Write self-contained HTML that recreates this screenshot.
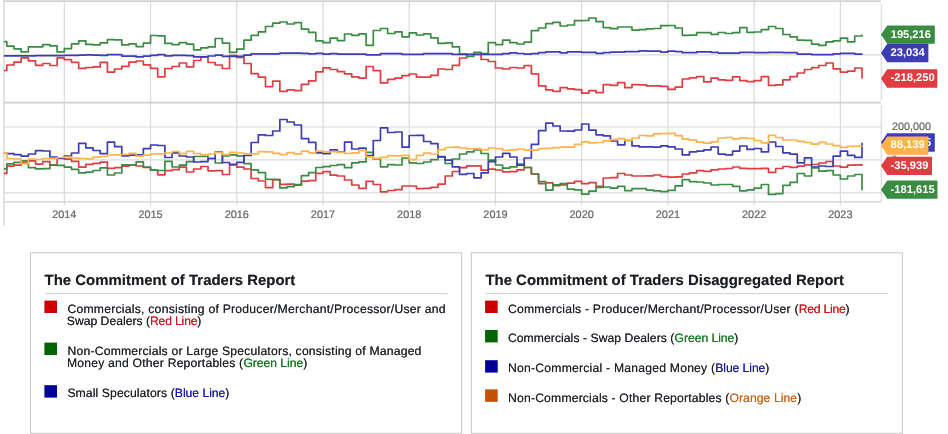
<!DOCTYPE html><html><head><meta charset="utf-8"><title>Commitment of Traders</title><style>
html,body{margin:0;padding:0;background:#fff;}
body{text-rendering:geometricPrecision;width:948px;height:434px;overflow:hidden;position:relative;font-family:"Liberation Sans",Arial,sans-serif;color:#1d2126;}
.hd,.tx{margin:0;padding:0}
.hd{text-shadow:0 0 0.4px rgba(26,29,33,.6);position:absolute;font-weight:700;font-size:14.9px;line-height:16px;white-space:nowrap;color:#1a1d21;}
.tx{text-shadow:0 0 0.45px rgba(29,33,38,.85);position:absolute;font-size:12.2px;line-height:16px;white-space:nowrap;}
.r{color:#d0101a;text-shadow:0 0 .45px rgba(208,16,26,.8)}.g{color:#0f7418;text-shadow:0 0 .45px rgba(15,116,24,.8)}.b{color:#1414a8;text-shadow:0 0 .45px rgba(20,20,168,.8)}.o{color:#cc5f12;text-shadow:0 0 .45px rgba(204,95,18,.8)}
</style></head><body>
<svg width="948" height="434" viewBox="0 0 948 434" style="position:absolute;left:0;top:0" font-family="'Liberation Sans', Arial, sans-serif" text-rendering="geometricPrecision">
<line x1="64.30" y1="1.5" x2="64.30" y2="205.6" stroke="#d9d9d9" stroke-width="1.2"/>
<line x1="150.53" y1="1.5" x2="150.53" y2="205.6" stroke="#d9d9d9" stroke-width="1.2"/>
<line x1="236.76" y1="1.5" x2="236.76" y2="205.6" stroke="#d9d9d9" stroke-width="1.2"/>
<line x1="322.99" y1="1.5" x2="322.99" y2="205.6" stroke="#d9d9d9" stroke-width="1.2"/>
<line x1="409.22" y1="1.5" x2="409.22" y2="205.6" stroke="#d9d9d9" stroke-width="1.2"/>
<line x1="495.45" y1="1.5" x2="495.45" y2="205.6" stroke="#d9d9d9" stroke-width="1.2"/>
<line x1="581.68" y1="1.5" x2="581.68" y2="205.6" stroke="#d9d9d9" stroke-width="1.2"/>
<line x1="667.91" y1="1.5" x2="667.91" y2="205.6" stroke="#d9d9d9" stroke-width="1.2"/>
<line x1="754.14" y1="1.5" x2="754.14" y2="205.6" stroke="#d9d9d9" stroke-width="1.2"/>
<line x1="840.37" y1="1.5" x2="840.37" y2="205.6" stroke="#d9d9d9" stroke-width="1.2"/>
<line x1="4" y1="54.8" x2="881" y2="54.8" stroke="#dadada" stroke-width="1.2"/>
<line x1="4" y1="127.0" x2="881" y2="127.0" stroke="#dadada" stroke-width="1.2"/>
<line x1="4" y1="159.8" x2="881" y2="159.8" stroke="#dadada" stroke-width="1.2"/>
<line x1="4" y1="192.9" x2="881" y2="192.9" stroke="#dadada" stroke-width="1.2"/>
<line x1="4.0" y1="0" x2="4.0" y2="225.5" stroke="#dadada" stroke-width="1.5"/>
<line x1="3.4" y1="0.5" x2="880.8" y2="0.5" stroke="#e2e2e2" stroke-width="1"/>
<line x1="3.4" y1="1.45" x2="880.8" y2="1.45" stroke="#cccccc" stroke-width="1"/>
<line x1="881.3" y1="3.7" x2="881.3" y2="100.2" stroke="#dadada" stroke-width="1.2"/>
<line x1="881.3" y1="105.2" x2="881.3" y2="201.5" stroke="#dadada" stroke-width="1.2"/>
<line x1="4" y1="102.7" x2="881" y2="102.7" stroke="#d0d0d0" stroke-width="1.8"/>
<line x1="4" y1="201.9" x2="881.5" y2="201.9" stroke="#d2d2d2" stroke-width="1.3"/>
<path d="M4.60,70.50H6.81V65.00H14.00V62.20H21.19V57.80H28.37V60.80H35.56V65.30H42.74V63.50H49.93V65.50H57.11V57.80H64.30V59.70H71.49V62.30H78.67V68.30H85.86V67.50H93.04V66.80H100.23V62.30H107.41V72.20H114.60V69.00H121.79V66.30H128.97V62.20H136.16V61.00H143.34V64.80H150.53V68.30H157.72V76.80H164.90V68.50H172.09V66.50H179.27V63.00H186.46V66.80H193.64V60.50H200.83V56.80H208.02V62.50H215.20V65.00H222.39V68.50H229.57V55.50H236.76V57.50H243.94V63.50H251.13V73.70H258.32V77.20H265.50V86.60H272.69V81.10H279.87V91.40H287.06V89.80H294.25V90.60H301.43V84.30H308.62V80.80H315.80V71.80H322.99V67.80H330.17V69.50H337.36V71.60H344.55V73.80H351.73V76.90H358.92V78.10H366.10V66.50H373.29V70.70H380.48V82.90H387.66V79.40H394.85V78.10H402.03V75.60H409.22V74.00H416.40V77.10H423.59H430.78V75.40H437.96V69.00H445.15V69.50H452.33V65.30H459.52V58.00H466.70V54.50H473.89H481.08V59.50H488.26V61.50H495.45V68.00H502.63V69.00H509.82V67.50H517.01V68.00H524.19V65.70H531.38V73.80H538.56V85.80H545.75V89.80H552.93V91.30H560.12V87.60H567.31V88.80H574.49V89.60H581.68V93.10H588.86V90.70H596.05V92.60H603.24V84.60H610.42V85.30H617.61V82.60H624.79V87.60H631.98V84.60H639.16V84.80H646.35V85.80H653.54V85.90H660.72V86.30H667.91V89.40H675.09V87.10H682.28V79.00H689.46V77.80H696.65V76.60H703.84V81.90H711.02V78.10H718.21V79.80H725.39V80.40H732.58V76.90H739.77V80.60H746.95V81.60H754.14V80.60H761.32V76.60H768.51V85.40H775.69V84.80H782.88V79.80H790.07V76.60H797.25V73.00H804.44V69.50H811.62V67.70H818.81V65.50H825.99V63.00H833.18V68.80H840.37V72.20H847.55V71.20H854.74V68.00H862.00V78.00" fill="none" stroke="#df3d42" stroke-width="1.7" stroke-linejoin="round" stroke-linecap="round"/>
<path d="M4.60,41.60H6.81V46.10H14.00V48.90H21.19V51.90H28.37V46.90H35.56H42.74V44.60H49.93V45.90H57.11V51.90H64.30V48.60H71.49V43.90H78.67V40.90H85.86V44.40H93.04V44.90H100.23V42.90H107.41V39.60H114.60V39.90H121.79V44.90H128.97V43.90H136.16V46.60H143.34V43.10H150.53V35.50H157.72V35.80H164.90V43.30H172.09V44.60H179.27V42.60H186.46V44.10H193.64V49.80H200.83V47.80H208.02V46.90H215.20V38.50H222.39V43.10H229.57V52.30H236.76V49.10H243.94V40.10H251.13V35.40H258.32V31.90H265.50V26.50H272.69V23.20H279.87V22.00H287.06V24.00H294.25V22.70H301.43V29.10H308.62V32.40H315.80V40.90H322.99V42.60H330.17V38.10H337.36V40.60H344.55V34.00H351.73V35.30H358.92V33.80H366.10V45.30H373.29V30.50H380.48V28.50H387.66V33.50H394.85V31.80H402.03V36.80H409.22V32.80H416.40V35.00H423.59V33.80H430.78V37.80H437.96V43.30H445.15V42.80H452.33V46.80H459.52V54.10H466.70V56.30H473.89V52.30H481.08V53.60H488.26V42.60H495.45V44.60H502.63V40.10H509.82V42.70H517.01V44.00H524.19V42.10H531.38V30.60H538.56V28.00H545.75V23.70H552.93V22.30H560.12V26.00H567.31V25.00H574.49V20.70H581.68V20.50H588.86V18.00H596.05V21.70H603.24V27.60H610.42V28.70H617.61V27.00H624.79H631.98V30.10H639.16V29.60H646.35V28.80H653.54V28.50H660.72V25.70H667.91V25.50H675.09V28.00H682.28V35.30H689.46V35.20H696.65V32.70H703.84H711.02V34.30H718.21V32.50H725.39V33.50H732.58V32.70H739.77V27.70H746.95V32.30H754.14V32.00H761.32V29.70H768.51V26.50H775.69V28.50H782.88V34.50H790.07V36.80H797.25V40.10H804.44V40.40H811.62V44.10H818.81V45.40H825.99V41.90H833.18V40.80H840.37V38.20H847.55V41.80H854.74V36.00H862.00V35.20" fill="none" stroke="#3a8c42" stroke-width="1.7" stroke-linejoin="round" stroke-linecap="round"/>
<path d="M4.60,55.80H6.81H14.00H21.19H28.37H35.56V55.60H42.74H49.93H57.11H64.30V55.40H71.49H78.67V55.10H85.86V54.90H93.04V55.10H100.23V55.40H107.41V54.60H114.60H121.79V56.10H128.97H136.16V56.90H143.34V56.10H150.53V55.40H157.72V54.60H164.90V55.90H172.09V55.40H179.27H186.46V55.60H193.64V56.90H200.83H208.02V56.00H215.20V55.10H222.39V56.40H229.57H236.76H243.94V55.10H251.13V53.80H258.32H265.50H272.69H279.87V53.10H287.06H294.25H301.43V53.30H308.62V53.80H315.80V53.30H322.99V54.10H330.17V53.60H337.36V54.10H344.55H351.73H358.92H366.10V54.80H373.29H380.48V53.60H387.66H394.85H402.03V54.30H409.22H416.40H423.59V53.60H430.78H437.96H445.15H452.33V54.30H459.52H466.70H473.89H481.08H488.26H495.45H502.63V53.60H509.82V52.80H517.01V53.50H524.19V54.10H531.38V53.60H538.56V52.60H545.75V51.80H552.93H560.12V52.80H567.31V51.80H574.49H581.68V52.30H588.86H596.05V53.30H603.24V52.60H610.42V52.10H617.61H624.79V51.60H631.98H639.16V50.80H646.35V51.10H653.54H660.72V52.10H667.91V51.10H675.09V51.60H682.28V52.70H689.46H696.65V51.80H703.84H711.02V52.30H718.21V53.10H725.39H732.58H739.77V52.30H746.95H754.14V52.60H761.32H768.51V52.30H775.69H782.88V52.60H790.07H797.25V54.10H804.44H811.62V54.60H818.81H825.99H833.18V53.80H840.37V53.30H847.55H854.74V54.10H862.00V54.00" fill="none" stroke="#3c3cb4" stroke-width="1.7" stroke-linejoin="round" stroke-linecap="round"/>
<path d="M4.60,173.40H6.81V166.10H14.00V165.10H21.19V162.60H28.37V160.90H35.56V164.10H42.74V161.60H49.93V164.80H57.11V158.50H64.30V159.20H71.49V161.30H78.67V167.10H85.86V164.30H93.04V163.30H100.23V162.20H107.41V168.30H114.60V167.70H121.79V166.20H128.97V165.00H136.16V166.00H143.34V167.50H150.53V170.00H157.72V174.80H164.90V170.60H172.09V169.70H179.27V167.20H186.46V172.00H193.64V169.00H200.83V166.50H208.02V170.80H215.20V170.70H222.39V174.50H229.57V165.00H236.76V167.20H243.94V169.00H251.13V178.50H258.32V181.00H265.50V187.60H272.69V179.60H279.87V184.40H287.06V184.10H294.25V185.10H301.43V181.10H308.62V180.60H315.80V173.30H322.99V171.70H330.17V175.20H337.36V176.00H344.55V180.00H351.73V185.00H358.92V188.40H366.10V181.30H373.29V184.50H380.48V191.80H387.66V190.50H394.85V189.70H402.03V186.00H409.22H416.40V188.70H423.59V188.30H430.78V187.30H437.96V184.20H445.15V176.00H452.33V171.50H459.52V167.70H466.70V165.80H473.89H481.08V170.20H488.26V169.20H495.45V170.00H502.63V171.80H509.82V171.60H517.01V169.80H524.19V167.50H531.38V174.00H538.56V183.60H545.75V182.80H552.93V185.60H560.12V184.80H567.31V183.10H574.49V181.30H581.68V183.60H588.86V182.60H596.05V186.30H603.24V178.00H610.42V177.70H617.61V173.50H624.79V175.00H631.98V176.00H639.16H646.35V175.80H653.54V175.00H660.72V176.50H667.91V177.20H675.09V176.80H682.28V174.00H689.46V172.80H696.65V170.70H703.84V171.30H711.02V169.80H718.21V169.00H725.39V168.50H732.58V167.00H739.77V168.30H746.95V168.70H754.14H761.32V168.30H768.51V172.40H775.69V168.50H782.88V166.50H790.07V167.30H797.25V166.20H804.44V164.80H811.62V164.50H818.81V163.00H825.99V161.50H833.18V166.00H840.37V167.20H847.55V165.20H854.74V164.80H862.00V165.20" fill="none" stroke="#df3d42" stroke-width="1.7" stroke-linejoin="round" stroke-linecap="round"/>
<path d="M4.60,168.90H6.81V163.90H14.00V162.30H21.19V160.80H28.37V167.60H35.56V168.90H42.74V168.60H49.93V165.10H57.11V165.40H64.30V167.10H71.49V169.40H78.67V172.90H85.86V172.10H93.04V170.50H100.23V167.80H107.41V175.00H114.60V173.00H121.79V164.80H128.97V165.00H136.16V161.80H143.34V167.20H150.53V170.20H157.72V170.50H164.90V161.40H172.09V167.00H179.27V165.20H186.46V161.70H193.64V156.50H200.83V156.30H208.02V158.50H215.20V163.00H222.39V155.80H229.57V154.80H236.76V155.80H243.94V163.70H251.13V169.90H258.32V172.70H265.50V179.30H272.69V179.60H279.87V187.90H287.06V186.60H294.25V184.60H301.43V175.70H308.62V172.70H315.80V167.50H322.99V166.70H330.17V165.50H337.36V164.70H344.55V167.70H351.73V162.80H358.92V161.80H366.10V152.30H373.29V159.00H380.48V166.80H387.66V164.70H394.85V165.00H402.03V158.00H409.22V162.80H416.40V163.50H423.59V162.00H430.78V159.70H437.96V156.70H445.15V163.50H452.33V159.00H459.52V154.00H466.70V151.80H473.89V150.00H481.08V153.50H488.26V160.20H495.45V165.00H502.63V168.20H509.82V166.90H517.01V164.00H524.19V167.50H531.38V174.00H538.56V181.60H545.75V190.10H552.93V184.80H560.12V183.60H567.31V189.10H574.49V189.80H581.68V194.10H588.86V191.20H596.05V187.40H603.24V187.00H610.42V188.10H617.61V186.40H624.79V190.60H631.98V188.60H639.16H646.35V190.10H653.54V190.90H660.72V191.60H667.91V190.40H675.09V185.90H682.28V179.60H689.46V181.60H696.65V182.00H703.84V183.00H711.02V185.00H718.21V184.50H725.39H732.58V186.30H739.77V190.80H746.95V189.80H754.14V188.10H761.32V184.50H768.51V194.40H775.69V193.60H782.88V185.30H790.07V182.40H797.25V173.50H804.44V176.00H811.62V168.00H818.81V171.20H825.99V170.70H833.18V175.00H840.37V179.00H847.55V176.00H854.74V174.50H862.00V189.60" fill="none" stroke="#3a8c42" stroke-width="1.7" stroke-linejoin="round" stroke-linecap="round"/>
<path d="M4.60,153.00H6.81V153.70H14.00V154.70H21.19V156.20H28.37V154.00H35.56V150.70H42.74V151.00H49.93V157.00H57.11V158.20H64.30V156.00H71.49V153.00H78.67V143.30H85.86V147.90H93.04V150.50H100.23V153.70H107.41V142.20H114.60V146.70H121.79V155.80H128.97V155.20H136.16V154.80H143.34V148.70H150.53V145.00H157.72V145.50H164.90V157.50H172.09V152.80H179.27V156.00H186.46V157.00H193.64V162.00H200.83V161.70H208.02V158.50H215.20V152.00H222.39V162.50H229.57V164.30H236.76V162.30H243.94V155.50H251.13V142.50H258.32V134.80H265.50V135.50H272.69V131.00H279.87V119.50H287.06V122.00H294.25V125.00H301.43V138.60H308.62V142.40H315.80V152.80H322.99V153.60H330.17V149.90H337.36V152.20H344.55V142.20H351.73V149.00H358.92V148.20H366.10V155.60H373.29V140.50H380.48V127.80H387.66V132.50H394.85V132.00H402.03V147.20H409.22V135.50H416.40V135.30H423.59V141.50H430.78V143.60H437.96V156.80H445.15V160.10H452.33V166.90H459.52V174.30H466.70V173.50H473.89V177.80H481.08V172.80H488.26V161.70H495.45V157.00H502.63V153.30H509.82V157.00H517.01V165.20H524.19V158.00H531.38V144.30H538.56V130.70H545.75V123.20H552.93V126.00H560.12V131.00H567.31V131.20H574.49V130.00H581.68V124.00H588.86V130.10H596.05V134.80H603.24V135.90H610.42V141.00H617.61V144.90H624.79V140.50H631.98V145.90H639.16V146.90H646.35V146.80H653.54V147.10H660.72V145.90H667.91V146.90H675.09V149.00H682.28V154.90H689.46V151.80H696.65V151.10H703.84V149.80H711.02V147.00H718.21V154.10H725.39V154.80H732.58V151.10H739.77V146.00H746.95V149.30H754.14V148.50H761.32V151.80H768.51V142.00H775.69V146.50H782.88V152.80H790.07V154.10H797.25V162.90H804.44V157.90H811.62V167.00H818.81V166.00H825.99V166.50H833.18V156.10H840.37V151.10H847.55V155.40H854.74V157.40H862.00V143.40" fill="none" stroke="#3c3cb4" stroke-width="1.7" stroke-linejoin="round" stroke-linecap="round"/>
<path d="M4.60,152.80H6.81V158.50H14.00V159.00H21.19V163.60H28.37V159.00H35.56V159.50H42.74V158.50H49.93H57.11V157.50H64.30V157.00H71.49V158.00H78.67V158.50H85.86V158.80H93.04V157.20H100.23V156.50H107.41V155.00H114.60V154.80H121.79V154.50H128.97V153.30H136.16V156.20H143.34V155.20H150.53V154.00H157.72V153.80H164.90V153.00H172.09V151.50H179.27V153.70H186.46V151.30H193.64V153.50H200.83V154.80H208.02V154.00H215.20V152.50H222.39V154.70H229.57V152.30H236.76V153.00H243.94V153.80H251.13V153.90H258.32V151.70H265.50V151.90H272.69V153.30H279.87V154.60H287.06V152.60H294.25V153.80H301.43V151.10H308.62V152.80H315.80V151.10H322.99V151.90H330.17V151.60H337.36V152.40H344.55V153.50H351.73V152.90H358.92V150.40H366.10V156.90H373.29V158.30H380.48V157.30H387.66V155.60H394.85V155.80H402.03V155.30H409.22V159.60H416.40V155.30H423.59V153.10H430.78V154.00H437.96V149.70H445.15V147.50H452.33V147.20H459.52V148.00H466.70V149.00H473.89V148.70H481.08V149.80H488.26V148.00H495.45V148.70H502.63V150.50H509.82V149.90H517.01V149.00H524.19V150.10H531.38H538.56V148.60H545.75V148.30H552.93V147.60H560.12V147.10H567.31H574.49V144.40H581.68V141.90H588.86V142.90H596.05V142.50H603.24V140.80H610.42V139.70H617.61V138.70H624.79V140.50H631.98V138.00H639.16V135.50H646.35V135.80H653.54V133.80H660.72V133.50H667.91V133.30H675.09V135.70H682.28V139.10H689.46V140.20H696.65V142.20H703.84V143.20H711.02V141.80H718.21V138.00H725.39V137.50H732.58V138.80H739.77V137.80H746.95V138.50H754.14V140.50H761.32V142.80H768.51V135.30H775.69V137.50H782.88V140.00H790.07H797.25V141.30H804.44V142.50H811.62V144.20H818.81V142.30H825.99V144.00H833.18V145.70H840.37V147.30H847.55V146.30H854.74V146.20H862.00V146.00" fill="none" stroke="#ffb24a" stroke-width="1.7" stroke-linejoin="round" stroke-linecap="round"/>
<text x="64.30" y="218" font-size="10.9" text-anchor="middle" fill="#666" stroke="#666" stroke-width=".22">2014</text>
<text x="150.53" y="218" font-size="10.9" text-anchor="middle" fill="#666" stroke="#666" stroke-width=".22">2015</text>
<text x="236.76" y="218" font-size="10.9" text-anchor="middle" fill="#666" stroke="#666" stroke-width=".22">2016</text>
<text x="322.99" y="218" font-size="10.9" text-anchor="middle" fill="#666" stroke="#666" stroke-width=".22">2017</text>
<text x="409.22" y="218" font-size="10.9" text-anchor="middle" fill="#666" stroke="#666" stroke-width=".22">2018</text>
<text x="495.45" y="218" font-size="10.9" text-anchor="middle" fill="#666" stroke="#666" stroke-width=".22">2019</text>
<text x="581.68" y="218" font-size="10.9" text-anchor="middle" fill="#666" stroke="#666" stroke-width=".22">2020</text>
<text x="667.91" y="218" font-size="10.9" text-anchor="middle" fill="#666" stroke="#666" stroke-width=".22">2021</text>
<text x="754.14" y="218" font-size="10.9" text-anchor="middle" fill="#666" stroke="#666" stroke-width=".22">2022</text>
<text x="840.37" y="218" font-size="10.9" text-anchor="middle" fill="#666" stroke="#666" stroke-width=".22">2023</text>
<text x="891.9" y="130" font-size="10.8" fill="#666" stroke="#666" stroke-width=".22">200,000</text>
<text x="891.4" y="163" font-size="10.8" fill="#666">0</text>
<path d="M881.0,34.6 L887.2,25.450000000000003 H934.0999999999999 Q934.8,25.450000000000003 934.8,26.150000000000002 V43.05 Q934.8,43.75 934.0999999999999,43.75 H887.2 Z" fill="#3a8c42"/><text x="890.7" y="38" font-size="11.15" font-weight="700" fill="#fff">195,216</text>
<path d="M881.0,53.0 L887.2,43.85 H927.6999999999999 Q928.4,43.85 928.4,44.550000000000004 V61.449999999999996 Q928.4,62.15 927.6999999999999,62.15 H887.2 Z" fill="#3c3cb4"/><text x="890.6" y="56" font-size="11.15" font-weight="700" fill="#fff">23,034</text>
<path d="M881.0,78.5 L887.2,69.35 H936.5999999999999 Q937.3,69.35 937.3,70.05 V86.95 Q937.3,87.65 936.5999999999999,87.65 H887.2 Z" fill="#df3d42"/><text x="890.6" y="81" font-size="11.15" font-weight="700" fill="#fff">-218,250</text>
<path d="M881.0,142.5 L887.2,133.35 H934.0999999999999 Q934.8,133.35 934.8,134.04999999999998 V150.95000000000002 Q934.8,151.65 934.0999999999999,151.65 H887.2 Z" fill="#3c3cb4"/><text x="890.9" y="146" font-size="11.15" font-weight="700" fill="#fff">106,015</text>
<path d="M881.0,145.6 L887.2,136.45 H927.6999999999999 Q928.4,136.45 928.4,137.14999999999998 V154.05 Q928.4,154.75 927.6999999999999,154.75 H887.2 Z" fill="#ffb24a"/><text x="890.6" y="148" font-size="11.15" font-weight="700" fill="#fff">88,139</text>
<path d="M881.0,165.8 L887.2,156.65 H931.3 Q932.0,156.65 932.0,157.35 V174.25000000000003 Q932.0,174.95000000000002 931.3,174.95000000000002 H887.2 Z" fill="#df3d42"/><text x="890.6" y="169" font-size="11.15" font-weight="700" fill="#fff">-35,939</text>
<path d="M881.0,189.7 L887.2,180.54999999999998 H936.8 Q937.5,180.54999999999998 937.5,181.24999999999997 V198.15 Q937.5,198.85 936.8,198.85 H887.2 Z" fill="#3a8c42"/><text x="890.6" y="193" font-size="11.15" font-weight="700" fill="#fff">-181,615</text>
<rect x="30.5" y="252.8" width="431.1" height="180.5" fill="none" stroke="#cbcbcb" stroke-width="1.1"/>
<rect x="471.3" y="252.8" width="431.1" height="180.5" fill="none" stroke="#cbcbcb" stroke-width="1.1"/>
<line x1="45.0" y1="293.6" x2="447.8" y2="293.6" stroke="#d6d6d6" stroke-width="1.1"/>
<line x1="485.4" y1="293.6" x2="888.2" y2="293.6" stroke="#d6d6d6" stroke-width="1.1"/>
<rect x="44.4" y="300.6" width="12.6" height="12.4" fill="#cc0000"/>
<rect x="44.4" y="342.6" width="12.6" height="12.4" fill="#006400"/>
<rect x="44.4" y="385.2" width="12.6" height="12.4" fill="#000099"/>
<rect x="485.1" y="300.6" width="12.6" height="12.4" fill="#cc0000"/>
<rect x="485.1" y="330.0" width="12.6" height="12.4" fill="#006400"/>
<rect x="485.1" y="360.2" width="12.6" height="12.4" fill="#000099"/>
<rect x="485.1" y="389.4" width="12.6" height="12.4" fill="#c45000"/>
</svg>
<section class="legends">
<h3 class="hd" style="left:44.60px;top:273.00px;letter-spacing:0.027px">The Commitment of Traders Report</h3>
<h3 class="hd" style="left:485.40px;top:273.00px;letter-spacing:0.028px">The Commitment of Traders Disaggregated Report</h3>
<p class="tx" style="left:67.40px;top:301.00px;letter-spacing:0.233px">Commercials, consisting of Producer/Merchant/Processor/User and</p>
<p class="tx" style="left:66.80px;top:313.00px;letter-spacing:-0.009px">Swap Dealers (<span class="r" style="letter-spacing:-0.177px">Red Line</span>)</p>
<p class="tx" style="left:67.50px;top:343.00px;letter-spacing:0.192px">Non-Commercials or Large Speculators, consisting of Managed</p>
<p class="tx" style="left:66.90px;top:355.00px;letter-spacing:0.199px">Money and Other Reportables (<span class="g" style="letter-spacing:-0.046px">Green Line</span>)</p>
<p class="tx" style="left:67.40px;top:385.00px;letter-spacing:0.091px">Small Speculators (<span class="b" style="letter-spacing:-0.036px">Blue Line</span>)</p>
<p class="tx" style="left:507.90px;top:301.00px;letter-spacing:0.217px">Commercials - Producer/Merchant/Processor/User (<span class="r" style="letter-spacing:-0.240px">Red Line</span>)</p>
<p class="tx" style="left:507.90px;top:330.00px;letter-spacing:0.048px">Commercials - Swap Dealers (<span class="g" style="letter-spacing:-0.046px">Green Line</span>)</p>
<p class="tx" style="left:508.10px;top:360.00px;letter-spacing:0.209px">Non-Commercial - Managed Money (<span class="b" style="letter-spacing:-0.091px">Blue Line</span>)</p>
<p class="tx" style="left:508.10px;top:390.00px;letter-spacing:0.162px">Non-Commercials - Other Reportables (<span class="o" style="letter-spacing:0.054px">Orange Line</span>)</p>
</section>
</body></html>
